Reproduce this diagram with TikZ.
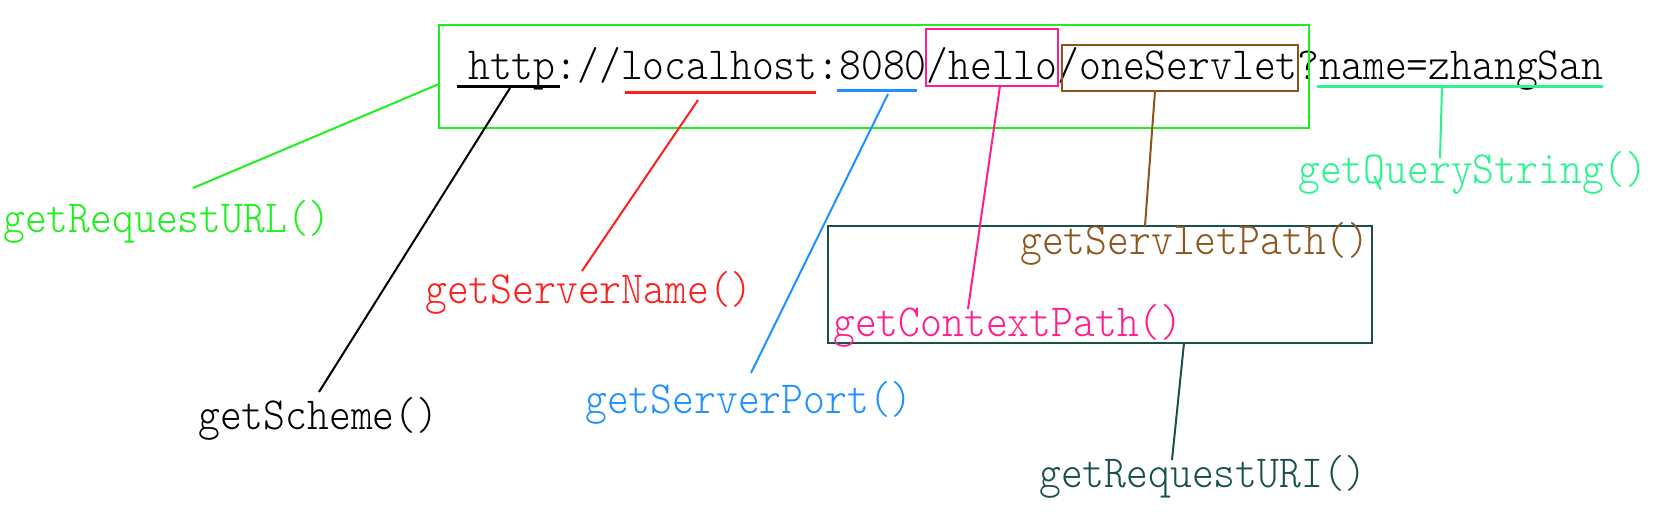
\documentclass[tikz,border=0pt]{standalone}
\usepackage{fontspec}
\newfontfamily\uf{lmmonolt10-regular}[Extension=.otf,FakeStretch=0.904]
\definecolor{cgreen}{RGB}{30,240,30}
\definecolor{cquery}{RGB}{40,245,140}
\definecolor{cred}{RGB}{255,30,30}
\definecolor{cblue}{RGB}{30,144,255}
\definecolor{cpink}{RGB}{255,30,140}
\definecolor{cbrown}{RGB}{140,85,30}
\definecolor{cteal}{RGB}{25,80,75}
\tikzset{
  txt/.style={inner sep=0pt, anchor=base west, font=\uf\fontsize{46}{52}\selectfont},
  frame/.style={line width=2.6pt},
  uline/.style={line width=3pt},
  conn/.style={line width=2pt}
}
\begin{document}
\begin{tikzpicture}[x=1pt,y=-1pt]
\useasboundingbox[fill=white] (0,0) rectangle (1658,518);
% URL
\node[txt] (url) at (468,80) {http://localhost:8080/hello/oneServlet?name=zhangSan};
% boxes
\draw[frame,cgreen] (439,25) rectangle (1309,128);
\draw[frame,cpink] (926,29) rectangle (1058,86);
\draw[frame,cbrown] (1062,45) rectangle (1298,91);
\draw[frame,cteal] (828,226) rectangle (1372,343);
% underlines
\draw[uline,black] (457,87) -- (560,87);
\draw[uline,cred] (625,92.5) -- (816,92.5);
\draw[uline,cblue] (837,90.5) -- (917,90.5);
\draw[uline,cquery] (1317,87) -- (1603,87);
% labels
\node[txt,text=cgreen] (lurl) at (3,233) {getRequestURL()};
\node[txt,text=black] (lscheme) at (198,430) {getScheme()};
\node[txt,text=cred] (lname) at (425,304) {getServerName()};
\node[txt,text=cblue] (lport) at (585,414) {getServerPort()};
\node[txt,text=cquery] (lquery) at (1298,184) {getQueryString()};
\node[txt,text=cbrown] (lservlet) at (1020,255) {getServletPath()};
\node[txt,text=cpink] (lcontext) at (833,337) {getContextPath()};
\node[txt,text=cteal] (luri) at (1039,488) {getRequestURI()};
% connector endpoints
\coordinate (a1) at (439,84);   \coordinate (a2) at (193,188);
\coordinate (b1) at (510,88);   \coordinate (b2) at (319,392);
\coordinate (c1) at (698,100);  \coordinate (c2) at (582,271);
\coordinate (d1) at (888,94);   \coordinate (d2) at (751,373);
\coordinate (e1) at (1000,86);  \coordinate (e2) at (968,309);
\coordinate (f1) at (1155,91);  \coordinate (f2) at (1145,226);
\coordinate (g1) at (1442,87);  \coordinate (g2) at (1440,158);
\coordinate (h1) at (1184,343); \coordinate (h2) at (1172,460);
% connectors
\draw[conn,cgreen] (a1) -- (a2);
\draw[conn,black] (b1) -- (b2);
\draw[conn,cred] (c1) -- (c2);
\draw[conn,cblue] (d1) -- (d2);
\draw[conn,cpink] (e1) -- (e2);
\draw[conn,cbrown] (f1) -- (f2);
\draw[conn,cquery] (g1) -- (g2);
\draw[conn,cteal] (h1) -- (h2);
\end{tikzpicture}
\end{document}
